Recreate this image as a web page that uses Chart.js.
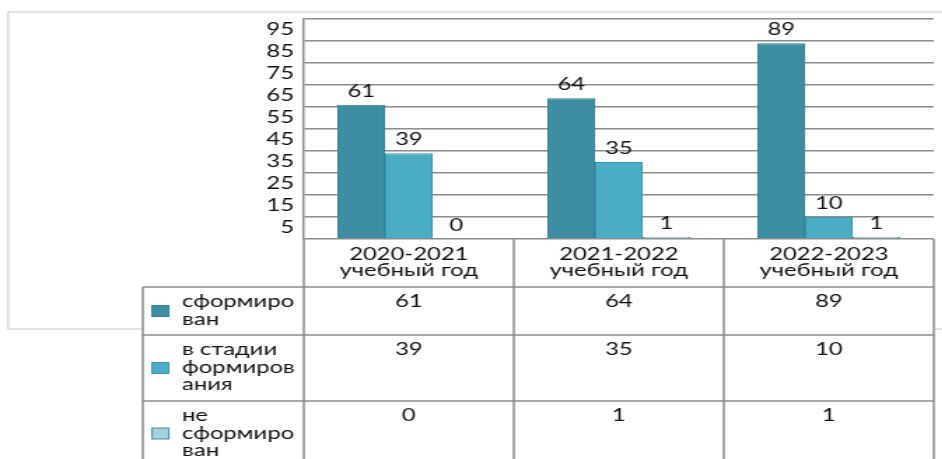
<!DOCTYPE html>
<html>
<head>
<meta charset="utf-8">
<script src="https://cdn.jsdelivr.net/npm/chart.js@4.4.1/dist/chart.umd.min.js"></script>
<style>
  html, body { margin: 0; padding: 0; background: #fff; overflow: hidden; }
  /* the original picture is stretched sideways, so draw narrow and widen it */
  #wrap { width: 673px; height: 459px; transform: scaleX(1.4); transform-origin: 0 0; }
</style>
</head>
<body>
<div id="wrap"><canvas id="chart" width="673" height="459"></canvas></div>
<script>
'use strict';

var categories = ['2020-2021 учебный год', '2021-2022 учебный год', '2022-2023 учебный год'];
var categoryLines = [['2020-2021', 'учебный год'], ['2021-2022', 'учебный год'], ['2022-2023', 'учебный год']];

var seriesNames = ['сформирован', 'в стадии формирования', 'не сформирован'];
var legendLines = [['сформиро', 'ван'], ['в стадии', 'формиров', 'ания'], ['не', 'сформиро', 'ван']];

var formed = [61, 64, 89];
var inProgress = [39, 35, 10];
var notFormed = [0, 1, 1];

var fills = ['#3d8ea3', '#4bacc6', '#a7d1de'];
var borders = ['#347f93', '#3a97b0', '#3d8ea3'];

var FONT = '17px Lato';
var TEXT = '#111';
var LINE = '#8c8c8c';

var ctx = document.getElementById('chart').getContext('2d');

var tablePlugin = {
  id: 'dataTable',

  beforeDraw: function (chart) {
    var c = chart.ctx;
    c.save();
    c.fillStyle = '#fff';
    c.fillRect(0, 0, chart.width, chart.height);
    c.strokeStyle = '#d9d9d9';
    c.lineWidth = 1.5;
    c.strokeRect(5.7, 12, 720, 317);
    c.restore();
  },

  afterDatasetsDraw: function (chart) {
    var c = chart.ctx;
    c.save();
    c.font = FONT;
    c.fillStyle = TEXT;
    c.textAlign = 'center';
    c.textBaseline = 'alphabetic';
    chart.data.datasets.forEach(function (ds, i) {
      var meta = chart.getDatasetMeta(i);
      meta.data.forEach(function (bar, j) {
        c.fillText(String(ds.data[j]), bar.x, bar.y - 8);
      });
    });
    c.restore();
  },

  afterDraw: function (chart) {
    var c = chart.ctx;
    var area = chart.chartArea;
    var xs = chart.scales.x;
    var catW = (area.right - area.left) / categories.length;
    var tableLeft = 102;
    var headTop = area.bottom;
    var rowTops = [287, 335, 401];
    var bottom = 470;

    c.save();
    // white cells over the frame
    c.fillStyle = '#fff';
    c.fillRect(area.left, headTop + 1, area.right - area.left, rowTops[0] - headTop);
    c.fillRect(tableLeft, rowTops[0], area.right - tableLeft, bottom - rowTops[0]);

    c.strokeStyle = LINE;
    c.lineWidth = 1.5;
    c.beginPath();
    for (var k = 0; k <= categories.length; k++) {
      var x = area.left + k * catW;
      c.moveTo(x, headTop);
      c.lineTo(x, bottom);
    }
    c.moveTo(tableLeft, rowTops[0]);
    c.lineTo(tableLeft, bottom);
    rowTops.forEach(function (y) {
      c.moveTo(tableLeft, y);
      c.lineTo(area.right, y);
    });
    c.stroke();

    c.font = FONT;
    c.fillStyle = TEXT;
    c.textBaseline = 'alphabetic';
    c.textAlign = 'center';

    // header
    categoryLines.forEach(function (lines, i) {
      var cx = xs.getPixelForValue(i);
      lines.forEach(function (t, j) {
        c.fillText(t, cx, headTop + 21 + j * 16);
      });
    });

    // values
    chart.data.datasets.forEach(function (ds, r) {
      ds.data.forEach(function (v, i) {
        c.fillText(String(v), xs.getPixelForValue(i), rowTops[r] + 20);
      });
    });

    // legend column
    var rowBottoms = [rowTops[1], rowTops[2], 466];
    c.textAlign = 'left';
    legendLines.forEach(function (lines, r) {
      var mid = (rowTops[r] + rowBottoms[r]) / 2;
      c.fillStyle = fills[r];
      c.fillRect(108.6, mid - 5.5, 12, 11);
      c.strokeStyle = borders[r];
      c.lineWidth = 1;
      c.strokeRect(108.6, mid - 5.5, 12, 11);
      c.fillStyle = TEXT;
      lines.forEach(function (t, j) {
        c.fillText(t, 130, rowTops[r] + 20 + j * 17.5);
      });
    });
    c.restore();
  }
};

var chart = new Chart(ctx, {
  type: 'bar',
  data: {
    labels: categories,
    datasets: [
      { label: seriesNames[0], data: formed, backgroundColor: fills[0], borderColor: borders[0], borderWidth: 1 },
      { label: seriesNames[1], data: inProgress, backgroundColor: fills[1], borderColor: borders[1], borderWidth: 1 },
      { label: seriesNames[2], data: notFormed, backgroundColor: fills[2], borderColor: borders[2], borderWidth: 1 }
    ]
  },
  options: {
    responsive: false,
    animation: false,
    datasets: { bar: { categoryPercentage: 0.68, barPercentage: 1 } },
    layout: { padding: { left: 0, top: 19, right: 6, bottom: 220 } },
    plugins: { legend: { display: false }, tooltip: { enabled: false } },
    scales: {
      x: { display: false },
      y: {
        min: 0,
        max: 100,
        afterFit: function (scale) { scale.width = 217; },
        border: { display: true, color: LINE, width: 1.5 },
        grid: {
          drawTicks: false,
          lineWidth: 1.5,
          color: function (c) { return c.tick && c.tick.value % 10 === 0 ? LINE : 'rgba(0,0,0,0)'; }
        },
        ticks: {
          stepSize: 5,
          autoSkip: false,
          padding: 7,
          color: TEXT,
          font: { family: 'Lato', size: 17 },
          callback: function (v) { return v % 10 === 5 ? v : ''; }
        }
      }
    }
  },
  plugins: [tablePlugin]
});
</script>
</body>
</html>
